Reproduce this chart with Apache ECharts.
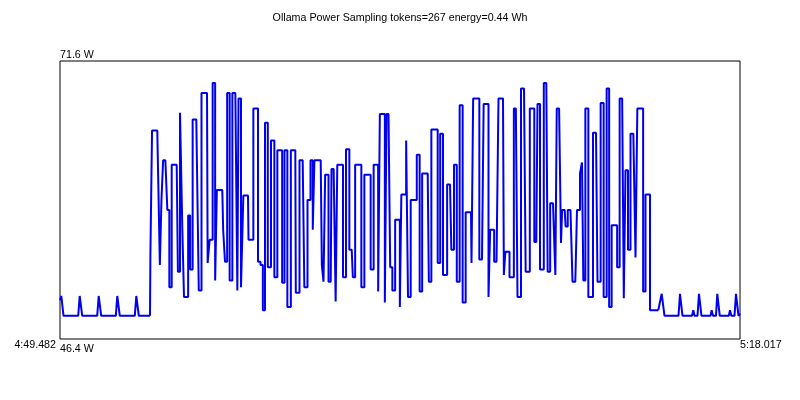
<!DOCTYPE html>
<html>
<head>
<meta charset="utf-8">
<script src="https://cdn.jsdelivr.net/npm/echarts@6/dist/echarts.min.js"></script>
<style>
html,body{margin:0;padding:0;background:#fff;}
#chart{width:800px;height:400px;}
</style>
</head>
<body>
<div id="chart"></div>
<script>
const titleText = 'Ollama Power Sampling tokens=267 energy=0.44 Wh';
const xTickLabels = ['4:49.482', '5:18.017'];
const yTickLabels = ['46.4 W', '71.6 W'];
const durationSec = 28.535;
const yMin = 46.4, yMax = 71.6;

// seconds since 4:49.482
const idleStartTimes = [0.000,0.055,0.147,0.764,0.827,0.932,1.561,1.624,1.729,2.342,2.404,2.509,3.139,3.202,3.307,3.777];
const idleStartWatts = [49.9,50.3,48.5,48.5,50.3,48.5,48.5,50.3,48.5,48.5,50.3,48.5,48.5,50.3,48.5,48.5];

const activeTimes = [
3.810,3.915,4.083,4.112,4.154,4.226,4.289,4.364,4.477,4.532,4.645,4.729,4.897,4.931,4.964,5.107,5.161,5.245,5.329,5.426,
5.497,5.636,5.803,5.845,6.030,6.169,6.223,6.336,6.475,6.546,6.618,6.811,6.882,6.966,7.062,7.176,7.289,7.427,7.457,7.524,
7.667,7.721,7.889,7.931,8.057,8.170,8.267,8.351,8.477,8.548,8.657,8.783,8.926,9.064,9.177,9.286,9.358,9.484,9.597,9.777,
9.874,9.916,10.184,10.323,10.449,10.575,10.638,10.713,10.940,11.036,11.078,11.175,11.360,11.427,11.540,11.594,11.678,11.792,11.959,12.043,
12.241,12.337,12.434,12.576,12.715,12.828,12.967,13.105,13.218,13.315,13.386,13.458,13.596,13.667,13.735,13.835,13.877,14.016,14.112,14.225,
14.297,14.351,14.477,14.574,14.633,14.800,14.909,15.035,15.149,15.245,15.430,15.526,15.640,15.807,15.891,16.017,16.126,16.366,16.479,16.588,
16.714,16.827,16.966,17.079,17.247,17.289,17.386,17.486,17.708,17.847,17.947,18.015,18.086,18.183,18.254,18.380,18.422,18.590,18.661,18.716,
18.829,18.896,19.009,19.081,19.177,19.219,19.471,19.610,19.819,19.987,20.088,20.197,20.407,20.520,20.617,20.759,20.814,20.877,21.011,21.036,
21.107,21.179,21.254,21.359,21.485,21.527,21.624,21.766,21.875,21.934,21.989,22.102,22.240,22.492,22.618,22.757,22.870,23.008,23.080,23.218,
23.331,23.428,23.541,23.638,23.680,23.780,23.890,23.990,24.129,24.171,24.284,24.422,24.519,24.620,24.716,24.800,25.106
];
const activeWatts = [
54.0,65.3,65.3,63.5,59.6,53.1,59.0,62.6,62.6,58.1,51.1,62.2,62.2,59.0,52.5,66.9,56.3,50.2,50.2,57.6,
52.7,66.3,66.3,50.8,68.7,68.7,53.3,55.4,69.6,51.7,59.9,59.9,56.3,53.4,68.7,51.7,68.7,68.7,50.8,68.2,
51.1,59.4,59.4,55.4,55.4,67.3,67.3,53.4,53.1,49.0,66.0,52.9,64.4,52.0,63.5,63.5,51.5,63.5,49.3,63.5,
63.5,50.6,62.6,51.1,59.0,62.6,56.3,62.6,62.6,53.1,51.6,61.3,51.6,61.8,61.8,49.8,62.2,62.2,52.0,63.6,
54.5,52.0,62.2,62.2,51.1,61.3,61.3,52.7,62.2,62.2,50.7,66.8,66.8,49.7,66.8,66.8,52.9,50.8,57.2,57.2,
49.3,59.5,59.5,64.4,50.2,59.0,59.0,63.1,50.7,61.4,61.4,51.6,65.4,65.4,53.3,65.0,52.2,60.4,54.5,62.2,
51.6,67.6,49.7,57.9,57.9,53.3,68.2,68.2,53.6,67.7,67.7,50.2,56.3,56.3,53.4,53.4,68.2,68.2,52.2,54.3,
54.3,52.0,52.0,67.3,67.3,50.2,69.1,52.5,67.3,55.2,67.7,52.7,69.6,52.5,58.7,58.7,52.2,67.3,67.3,55.1,
58.1,58.1,56.6,58.1,58.1,51.6,51.6,58.1,61.4,62.4,51.7,67.3,50.2,65.1,51.6,67.8,50.2,69.1,49.3,56.7,
56.7,52.9,68.2,68.2,50.1,61.7,54.5,65.0,65.0,53.8,67.3,67.3,50.7,59.5,59.5,49.0,49.0
];

const idleEndTimes = [25.249,25.367,25.954,26.017,26.122,26.521,26.576,26.626,26.751,26.814,26.919,27.297,27.347,27.402,27.527,27.582,27.687,28.065,28.115,28.170,28.304,28.367,28.472,28.535];
const idleEndWatts = [50.5,48.5,48.5,50.5,48.5,48.5,49.0,48.5,48.5,50.5,48.5,48.5,49.0,48.5,48.5,50.5,48.5,48.5,49.0,48.5,48.5,50.5,48.5,48.7];

const pairs = (ts, ws) => ts.map((t, i) => [t, ws[i]]);
const idleStartData = pairs(idleStartTimes, idleStartWatts);
const activeData = pairs(activeTimes, activeWatts);
const idleEndData = pairs(idleEndTimes, idleEndWatts);

// idle stretches drawn as a plain polyline, the busy stretch as held samples
const idleData = idleStartData.concat([null], [activeData[activeData.length - 1]], idleEndData);
const busyData = [idleStartData[idleStartData.length - 1]].concat(activeData);

const FONT = 'Liberation Sans';
const LINE = '#0000ee';
const chart = echarts.init(document.getElementById('chart'), null, {renderer: 'canvas'});
chart.setOption({
  animation: false,
  backgroundColor: '#ffffff',
  textStyle: {fontFamily: FONT},
  title: {
    text: titleText,
    left: 'center',
    top: 8,
    textStyle: {fontFamily: FONT, fontSize: 10.7, fontWeight: 'normal', color: '#000'}
  },
  grid: {
    left: 60, right: 60, top: 61, bottom: 61,
    show: true, borderColor: '#000', borderWidth: 1, backgroundColor: 'transparent'
  },
  xAxis: {
    type: 'value',
    min: 0, max: durationSec, interval: durationSec,
    axisLine: {show: false}, axisTick: {show: false}, splitLine: {show: false},
    axisLabel: {
      show: true, margin: 1, fontFamily: FONT, fontSize: 10.7, color: '#000',
      showMinLabel: true, showMaxLabel: true,
      alignMinLabel: 'right', alignMaxLabel: 'left',
      padding: [0, 4, 0, 0],
      formatter: v => (v < durationSec / 2 ? xTickLabels[0] : xTickLabels[1])
    }
  },
  yAxis: {
    type: 'value',
    min: yMin, max: yMax, interval: yMax - yMin,
    axisLine: {show: false}, axisTick: {show: false}, splitLine: {show: false},
    axisLabel: {
      show: true, inside: true, margin: 0, fontFamily: FONT, fontSize: 10.7, color: '#000',
      showMinLabel: true, showMaxLabel: true,
      align: 'left',
      verticalAlignMinLabel: 'top', verticalAlignMaxLabel: 'bottom',
      padding: [5, 0, 0, 0],
      formatter: v => (v < (yMin + yMax) / 2 ? yTickLabels[0] : yTickLabels[1])
    }
  },
  series: [{
    type: 'line',
    data: busyData,
    step: 'middle',
    showSymbol: false,
    symbol: 'none',
    lineStyle: {color: LINE, width: 2},
    itemStyle: {color: LINE}
  }, {
    type: 'line',
    data: idleData,
    connectNulls: false,
    showSymbol: false,
    symbol: 'none',
    lineStyle: {color: LINE, width: 2},
    itemStyle: {color: LINE}
  }]
});
</script>
</body>
</html>
